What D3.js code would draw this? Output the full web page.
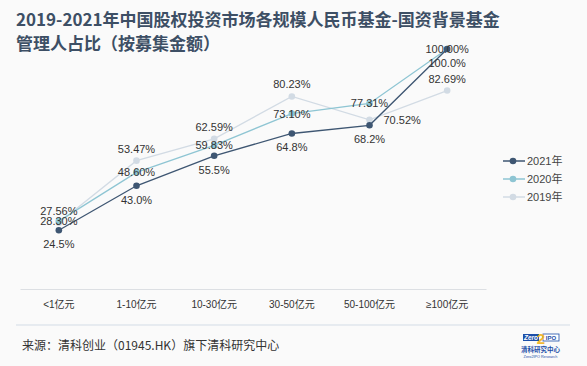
<!DOCTYPE html>
<html><head><meta charset="utf-8">
<script src="https://cdn.jsdelivr.net/npm/d3@7"></script>
<style>
body{margin:0;background:#fafafa;}
svg{display:block;font-family:"Liberation Sans","Noto Sans CJK SC",sans-serif;}
</style></head><body>
<svg id="c" width="587" height="366"></svg>
<script>
const categories = ["<1亿元","1-10亿元","10-30亿元","30-50亿元","50-100亿元","≥100亿元"];
const seriesNames = ["2021年","2020年","2019年"];
const v2021 = [24.5, 43.0, 55.5, 64.8, 68.2, 100.0];
const v2020 = [28.30, 48.60, 59.83, 73.10, 77.31, 100.00];
const v2019 = [27.56, 53.47, 62.59, 80.23, 70.52, 82.69];
const labels2021 = ["24.5%","43.0%","55.5%","64.8%","68.2%","100.0%"];
const labels2020 = ["28.30%","48.60%","59.83%","73.10%","77.31%","100.00%"];
const labels2019 = ["27.56%","53.47%","62.59%","80.23%","70.52%","82.69%"];
const colors = ["#3e5672","#8ec5d3","#d2dbe4"];

const svg = d3.select("#c");
svg.append("rect").attr("width",587).attr("height",366).attr("fill","#fafafa");

const title = svg.append("text").attr("x",16).attr("fill","#3d4f65")
  .attr("font-size",17).attr("font-weight","bold")
  .attr("font-family","'Noto Sans CJK SC',sans-serif");
title.append("tspan").attr("x",16).attr("y",26).text("2019-2021年中国股权投资市场各规模人民币基金-国资背景基金");
title.append("tspan").attr("x",16).attr("y",50).text("管理人占比（按募集金额）");

const x = d3.scaleBand().domain(categories).range([20,486]);
const y = d3.scaleLinear().domain([0,100]).range([289,49]);
const cx = c => x(c) + x.bandwidth()/2;

// axis
const ax = svg.append("g").attr("transform","translate(0,289)")
  .call(d3.axisBottom(x).tickSize(0).tickPadding(12));
ax.select(".domain").attr("stroke","#dcdfe3");
ax.selectAll("text").attr("font-size",10).attr("fill","#333")
  .attr("font-family","'Liberation Sans','Noto Sans CJK SC',sans-serif");

const series = [
  {name:seriesNames[2], vals:v2019, labels:labels2019, color:colors[2], pos:"top"},
  {name:seriesNames[1], vals:v2020, labels:labels2020, color:colors[1], pos:"center"},
  {name:seriesNames[0], vals:v2021, labels:labels2021, color:colors[0], pos:"bottom"}
];
const line = d3.line().x(d=>cx(d.c)).y(d=>y(d.v));
series.forEach(s=>{
  const pts = categories.map((c,i)=>({c, v:s.vals[i], l:s.labels[i]}));
  svg.append("path").datum(pts).attr("d",line).attr("fill","none")
    .attr("stroke",s.color).attr("stroke-width",1.3);
  svg.append("g").selectAll("circle").data(pts).join("circle")
    .attr("cx",d=>cx(d.c)).attr("cy",d=>y(d.v)).attr("r",3.3).attr("fill",s.color);
});
series.forEach(s=>{
  const pts = categories.map((c,i)=>({c, v:s.vals[i], l:s.labels[i], i}));
  svg.append("g").selectAll("text").data(pts).join("text")
    .attr("x",d=> (s.pos==="top" && d.i===4) ? cx(d.c)+14 : cx(d.c))
    .attr("y",d=>{
      const py=y(d.v);
      if(s.pos==="top") return d.i===4 ? py+4 : py-8;
      if(s.pos==="center") return py+4;
      return py+18;
    })
    .attr("text-anchor",d=>(s.pos==="top" && d.i===4)?"start":"middle")
    .attr("font-size",11).attr("fill","#333").text(d=>d.l);
});

// legend
const lg = svg.append("g");
[[seriesNames[0],colors[0]],[seriesNames[1],colors[1]],[seriesNames[2],colors[2]]].forEach((d,i)=>{
  const yy = 161 + i*18;
  lg.append("line").attr("x1",503).attr("x2",525).attr("y1",yy).attr("y2",yy)
    .attr("stroke",d[1]).attr("stroke-width",1.5);
  lg.append("circle").attr("cx",513).attr("cy",yy).attr("r",3.3).attr("fill",d[1]);
  lg.append("text").attr("x",527).attr("y",yy+4).attr("font-size",11).attr("fill","#444").text(d[0]);
});

// footer
svg.append("line").attr("x1",16).attr("x2",570).attr("y1",325).attr("y2",325)
  .attr("stroke","#d3dce6").attr("stroke-width",1);
svg.append("text").attr("x",22).attr("y",350).attr("font-size",12).attr("fill","#333")
  .attr("font-family","'Noto Sans CJK SC',sans-serif")
  .text("来源：清科创业（01945.HK）旗下清科研究中心");

// logo
const lo = svg.append("g");
lo.append("rect").attr("x",523).attr("y",334).attr("width",16).attr("height",7).attr("fill","#1d4fa8");
lo.append("text").attr("x",531).attr("y",340).attr("text-anchor","middle").attr("font-size",6.5)
  .attr("font-weight","bold").attr("font-style","italic").attr("fill","#fff").text("Zero");
lo.append("rect").attr("x",543).attr("y",334).attr("width",16).attr("height",7).attr("fill","#fff")
  .attr("stroke","#1d4fa8").attr("stroke-width",0.8);
lo.append("text").attr("x",551).attr("y",340).attr("text-anchor","middle").attr("font-size",6)
  .attr("font-weight","bold").attr("fill","#1d4fa8").text("IPO");
lo.append("text").attr("x",541).attr("y",344).attr("text-anchor","middle").attr("font-size",15)
  .attr("font-weight","bold").attr("fill","#f2b41b").attr("opacity",0.9).text("2");
lo.append("text").attr("x",540.5).attr("y",352).attr("text-anchor","middle").attr("font-size",6.5)
  .attr("font-weight","bold").attr("fill","#1d4fa8")
  .attr("font-family","'Noto Sans CJK SC',sans-serif").text("清科研究中心");
lo.append("text").attr("x",540.5).attr("y",357.5).attr("text-anchor","middle").attr("font-size",3.8)
  .attr("fill","#1d4fa8").text("Zero2IPO Research");
</script></body></html>
